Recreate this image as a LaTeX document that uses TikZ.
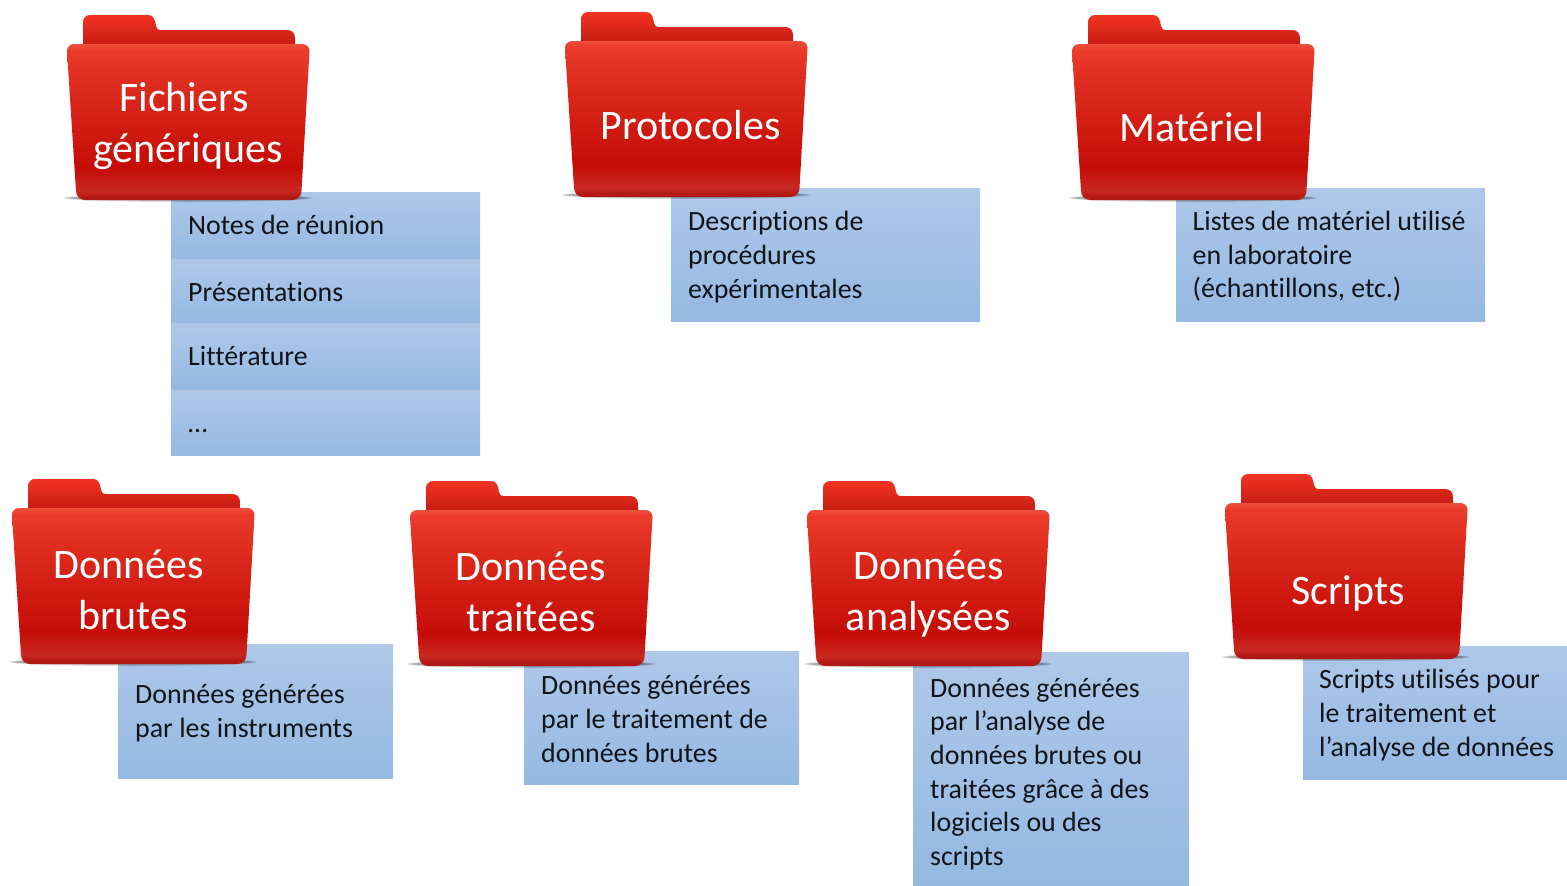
\documentclass[tikz,border=0pt]{standalone}
\usepackage{fontspec}
\setmainfont{Carlito}[RawFeature={-liga}]
\pgfdeclareverticalshading{frontred}{100bp}{rgb(0bp)=(0.68,0.09,0.07); rgb(25bp)=(0.68,0.09,0.07); rgb(26.5bp)=(0.72,0.11,0.09); rgb(28bp)=(0.79,0.16,0.13); rgb(35bp)=(0.77,0.05,0.03); rgb(60bp)=(0.86,0.16,0.11); rgb(73bp)=(0.92,0.23,0.17); rgb(75bp)=(0.94,0.31,0.24); rgb(100bp)=(0.94,0.31,0.24)}
\pgfdeclareverticalshading{backred}{100bp}{rgb(0bp)=(0.76,0.10,0.07); rgb(25bp)=(0.76,0.10,0.07); rgb(75bp)=(0.95,0.20,0.13); rgb(100bp)=(0.95,0.20,0.13)}
\definecolor{boxtop}{HTML}{AFC8E8}
\definecolor{boxbot}{HTML}{95B9E2}
\definecolor{boxtext}{HTML}{10141C}
\tikzset{
  x=1pt,y=-1pt,
  bluebox/.style={top color=boxtop,bottom color=boxbot,draw=none},
  boxlabel/.style={anchor=west,align=left,inner sep=0pt,text=boxtext,font=\fontsize{27.9}{33.7}\selectfont},
  folderlabel/.style={align=center,inner sep=0pt,text=white,font=\fontsize{42}{51}\selectfont},
}
% #1 front left x, #2 front top y
\newcommand{\folderart}[2]{%
  \begin{scope}[shift={(#1,#2)}]
    \foreach \w/\h in {124/4,121/3,118/2}{
      \fill[black,opacity=.14] (121,154) ellipse [x radius=\w,y radius=\h];
    }
    \shade[shading=backred] (16,4) -- (16,-22) .. controls (16,-26) and (19,-29) .. (23,-29)
      -- (81,-29) .. controls (87,-29) and (88,-24) .. (89,-18)
      .. controls (90,-15) and (91,-14) .. (93,-14)
      -- (220,-14) .. controls (225,-14) and (228,-11) .. (228,-6) -- (228,4) -- cycle;
    \shade[shading=frontred] (0,7) .. controls (0,3) and (3,0) .. (7,0)
      -- (235.5,0) .. controls (239.5,0) and (242.5,3) .. (242.5,7)
      -- (234.5,147) .. controls (234.5,152) and (230.5,156) .. (225.5,156)
      -- (18,156) .. controls (13,156) and (9,152) .. (9,147) -- cycle;
  \end{scope}}
\begin{document}
\begin{tikzpicture}
\useasboundingbox (0,0) rectangle (1567,886);
% blue panels
\shade[bluebox] (171,192) rectangle (480,258);
\shade[bluebox] (171,259) rectangle (480,322);
\shade[bluebox] (171,323) rectangle (480,389);
\shade[bluebox] (171,390) rectangle (480,455);
\shade[bluebox] (671,188) rectangle (980,321);
\shade[bluebox] (1176,188) rectangle (1485,321);
\shade[bluebox] (118,644) rectangle (393,778);
\shade[bluebox] (524,651) rectangle (799,784);
\shade[bluebox] (913,652) rectangle (1189,886);
\shade[bluebox] (1303,646) rectangle (1567,779);
% folders
\folderart{67}{44}
\folderart{565}{41}
\folderart{1072}{44}
\folderart{12}{508}
\folderart{410}{510}
\folderart{807}{510}
\folderart{1225}{503}
% folder labels
\node[folderlabel] (l1) at (186,126) {Fichiers\hspace*{4pt}\\\hspace*{4pt}génériques};
\node[folderlabel] (l2) at (690.5,125) {Protocoles};
\node[folderlabel] (l3) at (1192,127) {Matériel};
\node[folderlabel] (l4) at (131,590) {Données\hspace*{4pt}\\\hspace*{4pt}brutes};
\node[folderlabel] (l5) at (531,592) {Données\\traitées};
\node[folderlabel] (l6) at (928.5,594) {Données\\analysées};
\node[folderlabel] (l7) at (1348,593) {Scripts};
% panel texts
\node[boxlabel] (t1) at (188,225) {Notes de réunion};
\node[boxlabel] (t2) at (188,292) {Présentations};
\node[boxlabel] (t3) at (188,356) {Littérature};
\node[boxlabel] (t4) at (188,431) {…};
\node[boxlabel] (t5) at (688,257) {Descriptions de\\procédures\\expérimentales};
\node[boxlabel] (t6) at (1192.5,256.5) {Listes de matériel utilisé\\en laboratoire\\(échantillons, etc.)};
\node[boxlabel] (t7) at (135,713.5) {Données générées\\par les instruments};
\node[boxlabel] (t8) at (541,719) {Données générées\\par le traitement de\\données brutes};
\node[boxlabel] (t9) at (930,774) {Données générées\\par l’analyse de\\données brutes ou\\traitées grâce à des\\logiciels ou des\\scripts};
\node[boxlabel] (t10) at (1319,715) {Scripts utilisés pour\\le traitement et\\l’analyse de données};
\end{tikzpicture}
\end{document}
